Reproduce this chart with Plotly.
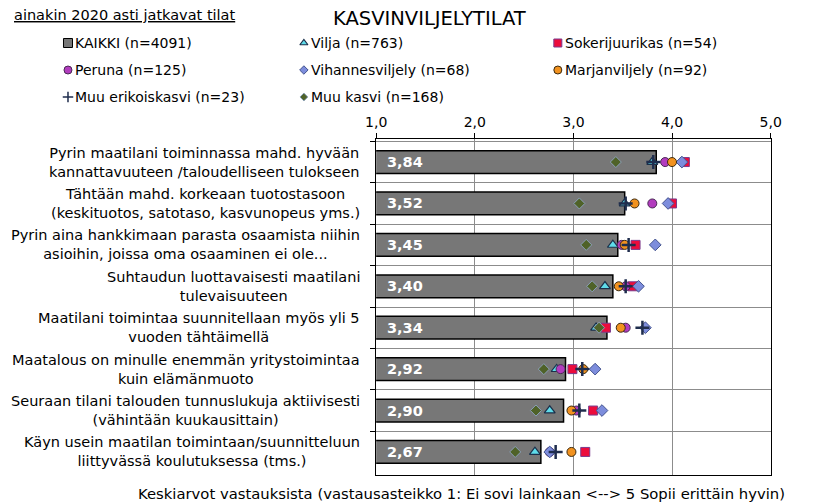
import plotly.graph_objects as go

W, H = 813, 503

# statements, top to bottom
categories = [
    "Pyrin maatilani toiminnassa mahd. hyvään<br>kannattavuuteen /taloudelliseen tulokseen",
    "Tähtään mahd. korkeaan tuotostasoon<br>(keskituotos, satotaso, kasvunopeus yms.)",
    "Pyrin aina hankkimaan parasta osaamista niihin<br>asioihin, joissa oma osaaminen ei ole...",
    "Suhtaudun luottavaisesti maatilani<br>tulevaisuuteen",
    "Maatilani toimintaa suunnitellaan myös yli 5<br>vuoden tähtäimellä",
    "Maatalous on minulle enemmän yritystoimintaa<br>kuin elämänmuoto",
    "Seuraan tilani talouden tunnuslukuja aktiivisesti<br>(vähintään kuukausittain)",
    "Käyn usein maatilan toimintaan/suunnitteluun<br>liittyvässä koulutuksessa (tms.)",
]

kaikki = [3.84, 3.52, 3.45, 3.40, 3.34, 2.92, 2.90, 2.67]
vilja = [3.80, 3.52, 3.40, 3.32, 3.23, 2.83, 2.76, 2.61]
sokerijuurikas = [4.13, 4.00, 3.63, 3.60, 3.33, 2.99, 3.20, 3.12]
peruna = [3.93, 3.80, 3.49, 3.53, 3.53, 2.87, 3.03, 2.76]
vihannes = [4.10, 3.96, 3.83, 3.66, 3.73, 3.22, 3.29, 2.76]
marjan = [4.00, 3.62, 3.52, 3.46, 3.48, 3.10, 2.98, 2.98]
muu_erikois = [3.81, 3.53, 3.56, 3.53, 3.70, 3.09, 3.06, 2.82]
muu_kasvi = [3.43, 3.06, 3.13, 3.19, 3.26, 2.70, 2.62, 2.41]

series_names = [
    "KAIKKI (n=4091)", "Vilja (n=763)", "Sokerijuurikas (n=54)",
    "Peruna (n=125)", "Vihannesviljely (n=68)", "Marjanviljely (n=92)",
    "Muu erikoiskasvi (n=23)", "Muu kasvi (n=168)",
]

FONT = "DejaVu Sans"

# marker styles: (symbol, size in plot, size in legend, fill, outline colour, outline width)
styles = {
    "Vilja (n=763)": ("triangle-up", 9.5, 7, "#5fdcea", "#1b2f4a", 1.2),
    "Sokerijuurikas (n=54)": ("square", 9, 8, "#ec0c3c", "#7a3a8c", 1),
    "Peruna (n=125)": ("circle", 9, 8, "#b23cbe", "#4a2a55", 1),
    "Vihannesviljely (n=68)": ("diamond", 9, 6.5, "#7d8ddc", "#44548f", 1),
    "Marjanviljely (n=92)": ("circle", 9, 8, "#f2921f", "#3a2a10", 1),
    "Muu erikoiskasvi (n=23)": ("cross-thin", 10, 7.5, "#1f2d4d", "#1f2d4d", 2.5),
    "Muu kasvi (n=168)": ("diamond", 8.5, 6, "#4f6228", "#8aa0b8", 1),
}
values = {
    "Vilja (n=763)": vilja,
    "Sokerijuurikas (n=54)": sokerijuurikas,
    "Peruna (n=125)": peruna,
    "Vihannesviljely (n=68)": vihannes,
    "Marjanviljely (n=92)": marjan,
    "Muu erikoiskasvi (n=23)": muu_erikois,
    "Muu kasvi (n=168)": muu_kasvi,
}

# where the paper area lands on screen (measured): x 21..809, y 8..511
SX0, SX1, SY0, SY1 = 21.2, 809.2, 8, 511


def dom_x(px):
    return (px - SX0) / (SX1 - SX0)


def dom_y(py):
    return (SY1 - py) / (SY1 - SY0)


# plot area in screen pixels
px_l, px_r, px_t, px_b = 377, 770, 139, 475

fig = go.Figure()

fig.add_trace(go.Bar(
    x=kaikki, y=categories, orientation="h", width=0.55,
    marker=dict(color="#777777", line=dict(color="black", width=1.5)),
    name=series_names[0], showlegend=False,
))

for name in series_names[1:]:
    sym, size, _, fill, edge, lw = styles[name]
    fig.add_trace(go.Scatter(
        x=values[name], y=categories, mode="markers", name=name,
        marker=dict(symbol=sym, size=size, color=fill, line=dict(color=edge, width=lw)),
        showlegend=False,
    ))

# hand-made legend on a full-figure pixel axis
leg_cols = [70, 305, 558]
leg_rows = [43, 70, 97]
annotations = []
for i, name in enumerate(series_names):
    lx = leg_cols[i % 3]
    ly = leg_rows[i // 3]
    if i == 0:
        mk = dict(symbol="square", size=9, color="#777777", line=dict(color="black", width=1))
    else:
        sym, _, lsize, fill, edge, lw = styles[name]
        mk = dict(symbol=sym, size=lsize, color=fill,
                  line=dict(color=edge, width=min(lw, 1.5)))
    fig.add_trace(go.Scatter(
        x=[lx], y=[ly], mode="markers", marker=mk, xaxis="x2", yaxis="y2",
        showlegend=False, hoverinfo="skip",
    ))
    annotations.append(dict(
        x=dom_x(lx + 5), y=dom_y(ly), xref="paper", yref="paper", text=name, showarrow=False,
        xanchor="left", yanchor="middle", font=dict(family=FONT, size=14, color="black"),
    ))

# category labels, centred lines, right edge near the axis
for cat in categories:
    annotations.append(dict(
        x=dom_x(px_l), y=cat, xref="paper", yref="y", text=cat, showarrow=False,
        xanchor="right", yanchor="middle", align="center", xshift=-14,
        font=dict(family=FONT, size=14.5, color="black"),
    ))

# value labels inside bars
for cat, v in zip(categories, kaikki):
    annotations.append(dict(
        x=1, y=cat, xref="x", yref="y", text=f"{v:.2f}".replace(".", ","),
        showarrow=False, xanchor="left", yanchor="middle", xshift=9,
        font=dict(family=FONT, size=14.5, color="white", weight="bold"),
    ))

annotations += [
    dict(x=dom_x(14), y=dom_y(15), xref="paper", yref="paper",
         text="<u>ainakin 2020 asti jatkavat tilat</u>",
         showarrow=False, xanchor="left", yanchor="middle",
         font=dict(family=FONT, size=14.5, color="black")),
    dict(x=dom_x(332), y=dom_y(18), xref="paper", yref="paper", text="KASVINVILJELYTILAT",
         showarrow=False, xanchor="left", yanchor="middle",
         font=dict(family=FONT, size=19.5, color="black")),
    dict(x=dom_x(462), y=dom_y(493), xref="paper", yref="paper",
         text="Keskiarvot vastauksista (vastausasteikko 1: Ei sovi lainkaan &lt;--&gt; 5 Sopii erittäin hyvin)",
         showarrow=False, xanchor="center", yanchor="middle",
         font=dict(family=FONT, size=14.8, color="black")),
]

fig.update_layout(
    width=W, height=H,
    margin=dict(l=0, r=0, t=0, b=0),
    paper_bgcolor="white", plot_bgcolor="rgba(0,0,0,0)",
    separators=", ",
    showlegend=False,
    annotations=annotations,
    xaxis=dict(
        domain=[dom_x(px_l), dom_x(px_r)], range=[1, 5], side="top",
        tick0=1, dtick=1, tickformat=".1f",
        ticks="outside", ticklen=5, tickcolor="black",
        showline=True, linecolor="black", linewidth=1, mirror=True,
        showgrid=True, gridcolor="#8c8c8c", gridwidth=1, zeroline=False,
        tickfont=dict(family=FONT, size=14, color="black"),
    ),
    yaxis=dict(
        domain=[dom_y(px_b), dom_y(px_t)],
        type="category", categoryorder="array", categoryarray=categories,
        autorange="reversed", tickson="boundaries",
        ticks="outside", ticklen=5, tickcolor="black", showticklabels=False,
        showline=True, linecolor="black", linewidth=1, mirror=True,
        showgrid=True, gridcolor="#8c8c8c", gridwidth=1,
    ),
    xaxis2=dict(domain=[0, 1], range=[SX0, SX1], anchor="y2", visible=False, fixedrange=True),
    yaxis2=dict(domain=[0, 1], range=[SY1, SY0], anchor="x2", visible=False, fixedrange=True),
)

fig.write_html("out.html")
